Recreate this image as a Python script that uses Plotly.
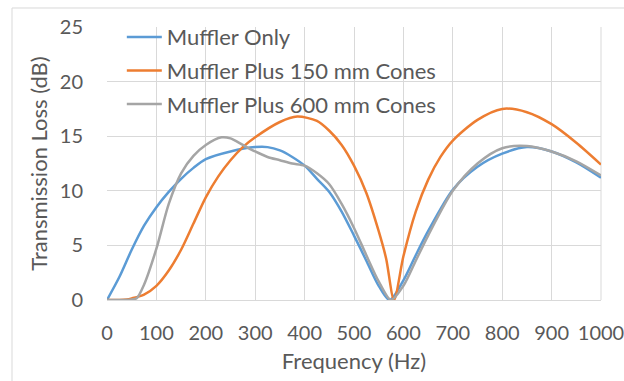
import plotly.graph_objects as go

# ---- data ----
f_only = [0, 25, 50, 75, 100, 125, 150, 175, 200, 250, 300, 325, 350, 375, 400, 425, 450, 475, 500, 525, 550, 572,
          600, 625, 650, 700, 750, 800, 850, 900, 950, 1000]
tl_only = [0, 2.1, 4.6, 6.8, 8.5, 9.9, 11.1, 12.1, 12.9, 13.6, 14.0, 14.0, 13.7, 13.1, 12.3, 11.1, 9.9, 8.1, 5.9, 3.6, 1.3, 0,
           1.8, 4.1, 6.3, 10.1, 12.2, 13.4, 14.0, 13.6, 12.6, 11.2]

f_150 = [0, 25, 40, 50, 75, 100, 125, 150, 175, 200, 225, 250, 275, 300, 350, 385, 425, 450, 475, 500, 525, 550, 565, 581,
         600, 625, 650, 675, 700, 750, 800, 850, 900, 950, 1000]
tl_150 = [0, 0, 0.05, 0.15, 0.5, 1.3, 2.7, 4.6, 7.0, 9.4, 11.3, 12.8, 14.0, 14.9, 16.3, 16.8, 16.4, 15.5, 14.2, 12.3, 9.8, 6.3, 3.8, 0,
          4.0, 8.1, 11.0, 13.1, 14.6, 16.5, 17.5, 17.2, 16.1, 14.4, 12.4]

f_600 = [0, 25, 50, 60, 75, 100, 125, 150, 175, 200, 232, 250, 275, 300, 325, 350, 375, 400, 425, 450, 475, 500, 525, 550, 575,
         600, 625, 650, 700, 750, 800, 850, 900, 950, 1000]
tl_600 = [0, 0, 0.05, 0.15, 1.4, 4.7, 8.8, 11.6, 13.2, 14.2, 14.9, 14.8, 14.2, 13.6, 13.1, 12.8, 12.5, 12.3, 11.6, 10.6, 8.8, 6.6, 4.1, 1.7, 0,
          1.3, 3.6, 5.9, 10.0, 12.5, 13.9, 14.1, 13.6, 12.7, 11.4]

series = [
    ("Muffler Only", f_only, tl_only, "#5B9BD5"),
    ("Muffler Plus 150 mm Cones", f_150, tl_150, "#ED7D31"),
    ("Muffler Plus 600 mm Cones", f_600, tl_600, "#A5A5A5"),
]

x_ticks = [0, 100, 200, 300, 400, 500, 600, 700, 800, 900, 1000]
y_ticks = [0, 5, 10, 15, 20, 25]

FONT = "Lato"
TXT = "#595959"
GRID = "#D9D9D9"

fig = go.Figure()
for i, (name, fx, fy, col) in enumerate(series):
    fig.add_trace(go.Scatter(
        x=fx, y=fy, name=name, mode="lines",
        line=dict(color=col, width=2.5, shape="spline", smoothing=0.8),
        legendgroup=f"g{i}",
    ))

fig.update_layout(
    width=624, height=381,
    margin=dict(l=107, r=23, t=27, b=81),
    paper_bgcolor="white", plot_bgcolor="white",
    font=dict(family=FONT, color=TXT, size=20),
    showlegend=True,
    legend=dict(
        x=0.03, y=1.04, xanchor="left", yanchor="top",
        bgcolor="rgba(255,255,255,0)",
        font=dict(family=FONT, size=22, color=TXT),
        traceorder="grouped", tracegroupgap=2, itemwidth=35,
    ),
    xaxis=dict(
        range=[0, 1000], tickvals=x_ticks, ticktext=[str(v) for v in x_ticks],
        showgrid=True, gridcolor=GRID, gridwidth=1,
        showline=True, linecolor=GRID, linewidth=1, mirror=False,
        zeroline=False, ticks="", ticklabelstandoff=15, automargin=False,
        ticklabeloverflow="allow",
        tickfont=dict(size=20, color=TXT),
        title=dict(text="Frequency (Hz)", font=dict(size=22, color=TXT), standoff=10),
    ),
    yaxis=dict(
        range=[0, 25], tickvals=y_ticks, ticktext=[str(v) for v in y_ticks],
        showgrid=True, gridcolor=GRID, gridwidth=1,
        showline=False, zeroline=False, ticks="", ticklabelstandoff=23, automargin=False,
        ticklabeloverflow="allow",
        tickfont=dict(size=20, color=TXT),
        title=dict(text="Transmission Loss (dB)", font=dict(size=22, color=TXT), standoff=6),
    ),
    shapes=[
        dict(type="rect", xref="paper", yref="paper",
             x0=-0.1923, y0=-0.6, x1=1.3, y1=1.0696,
             line=dict(color=GRID, width=1), fillcolor="rgba(0,0,0,0)", layer="below"),
        dict(type="line", xref="paper", yref="paper", x0=1, x1=1, y0=0, y1=1,
             line=dict(color=GRID, width=1), layer="below"),
    ],
)

fig.write_html(
    "out.html",
    config={"displayModeBar": False},
    post_script="document.body.style.margin='0px';document.body.style.overflow='hidden';",
)
